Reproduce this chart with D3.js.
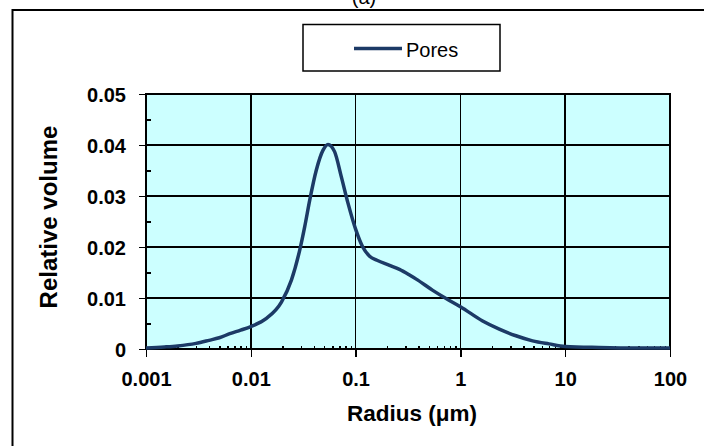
<!DOCTYPE html>
<html>
<head>
<meta charset="utf-8">
<title>Pore size distribution</title>
<style type="text/css">
body{ margin: 0; background: #fff; }
svg text{ font-family: Arial, "Liberation Sans", sans-serif; }
.grid line{ stroke: #000; stroke-width: 1.5; shape-rendering: crispEdges; }
.axis path{ display: none; }
.axis line{ stroke: #000; stroke-width: 1.5; shape-rendering: crispEdges; }
.axis text{ font-size: 20px; font-weight: bold; fill: #000; }
</style>
<script src="https://cdn.jsdelivr.net/npm/d3@7"></script>
</head>
<body>
<script>
// data
var radius = [0.001, 0.0015, 0.002, 0.003, 0.004, 0.005, 0.0063, 0.008, 0.01, 0.0141,
              0.0196, 0.0244, 0.0293, 0.0327, 0.0365, 0.0422, 0.0489, 0.0545, 0.063, 0.073,
              0.0846, 0.1, 0.117, 0.136, 0.16, 0.211, 0.262, 0.327, 0.379, 0.545,
              0.73, 1.0, 1.63, 2.35, 3.39, 4.88, 7.0, 10, 21, 50, 100];
var pores = [0.0002, 0.0004, 0.0006, 0.0011, 0.0017, 0.0022, 0.0030, 0.0037, 0.0044, 0.0060,
             0.0092, 0.0135, 0.0194, 0.0240, 0.0292, 0.0351, 0.0390, 0.0401, 0.0387, 0.0338,
             0.0286, 0.0235, 0.0200, 0.0182, 0.0174, 0.0164, 0.0156, 0.0145, 0.0137, 0.0115,
             0.0099, 0.0083, 0.0055, 0.0039, 0.0026, 0.0016, 0.0010, 0.0005, 0.0003, 0.0002, 0.0002];
var xTicks = [0.001, 0.01, 0.1, 1, 10, 100];
var xTickLabels = ["0.001", "0.01", "0.1", "1", "10", "100"];
var yTicks = [0, 0.01, 0.02, 0.03, 0.04, 0.05];
var yTickLabels = ["0", "0.01", "0.02", "0.03", "0.04", "0.05"];
var yMinor = [0.005, 0.015, 0.025, 0.035, 0.045];

const width = 704, height = 446;
const plot = {left: 146, right: 670, top: 94, bottom: 349};

const svg = d3.select("body").append("svg").attr("width", width).attr("height", height);

// outer frame (only top and left edges are inside the picture)
svg.append("path").attr("d", "M12.5,450 V10 H710")
   .attr("fill", "none").attr("stroke", "#000").attr("stroke-width", 2);

// title, cut off by the top edge
svg.append("text").attr("x", 364).attr("y", 4).attr("text-anchor", "middle")
   .attr("font-size", 20).text("(a)");

const x = d3.scaleLog().domain([0.001, 100]).range([plot.left, plot.right]);
const y = d3.scaleLinear().domain([0, 0.05]).range([plot.bottom, plot.top]);

svg.append("rect").attr("x", plot.left).attr("y", plot.top)
   .attr("width", plot.right - plot.left).attr("height", plot.bottom - plot.top)
   .attr("fill", "#ccffff");

// gridlines
const grid = svg.append("g").attr("class", "grid");
grid.selectAll(".h").data(yTicks).enter().append("line")
    .attr("x1", plot.left).attr("x2", plot.right)
    .attr("y1", d => y(d)).attr("y2", d => y(d));
grid.selectAll(".v").data(xTicks).enter().append("line")
    .attr("y1", plot.top).attr("y2", plot.bottom)
    .attr("x1", d => x(d)).attr("x2", d => x(d));

// minor ticks (inside)
var xMinor = [];
xTicks.slice(0, -1).forEach(function(t) {
  for (var k = 2; k <= 9; k++) xMinor.push(t * k);
});
svg.append("g").attr("class", "axis")
   .attr("transform", `translate(0,${plot.bottom})`)
   .call(d3.axisBottom(x).tickValues(xMinor).tickSize(-3.5).tickFormat(""));
svg.append("g").attr("class", "axis")
   .attr("transform", `translate(${plot.left},0)`)
   .call(d3.axisLeft(y).tickValues(yMinor).tickSize(-5).tickFormat(""));

// major axes
const xAxisG = svg.append("g").attr("class", "axis")
   .attr("transform", `translate(0,${plot.bottom})`)
   .call(d3.axisBottom(x).tickValues(xTicks).tickSize(8)
         .tickFormat((d, i) => xTickLabels[i]));
xAxisG.selectAll("text").attr("y", 36.5).attr("dy", 0);

const yAxisG = svg.append("g").attr("class", "axis")
   .attr("transform", `translate(${plot.left},0)`)
   .call(d3.axisLeft(y).tickValues(yTicks).tickSize(7)
         .tickFormat((d, i) => yTickLabels[i]));
yAxisG.selectAll("text").attr("x", -20).attr("dy", 7);

// plot border
svg.append("rect").attr("x", plot.left).attr("y", plot.top)
   .attr("width", plot.right - plot.left).attr("height", plot.bottom - plot.top)
   .attr("fill", "none").attr("stroke", "#000").attr("stroke-width", 1.5)
   .attr("shape-rendering", "crispEdges");

// the curve
const data = radius.map((r, i) => ({r: r, v: pores[i]}));
const lineGen = d3.line().x(d => x(d.r)).y(d => y(d.v)).curve(d3.curveMonotoneX);
svg.append("path").datum(data).attr("d", lineGen)
   .attr("fill", "none").attr("stroke", "#1c3a66").attr("stroke-width", 3.5)
   .attr("stroke-linejoin", "round").attr("stroke-linecap", "butt");

// axis titles
svg.append("text").attr("x", 412).attr("y", 421).attr("text-anchor", "middle")
   .attr("font-size", 22.5).attr("font-weight", "bold").text("Radius (\u03bcm)");
svg.append("text").attr("transform", "translate(57,217) rotate(-90)")
   .attr("text-anchor", "middle").attr("font-size", 24).attr("font-weight", "bold")
   .text("Relative volume");

// legend
const legend = svg.append("g");
legend.append("rect").attr("x", 303).attr("y", 24.5).attr("width", 197).attr("height", 46.5)
   .attr("fill", "#fff").attr("stroke", "#000").attr("stroke-width", 1.5);
legend.append("line").attr("x1", 354).attr("x2", 402).attr("y1", 48.5).attr("y2", 48.5)
   .attr("stroke", "#1c3a66").attr("stroke-width", 3.5);
legend.append("text").attr("x", 406).attr("y", 56.5).attr("font-size", 20).text("Pores");
</script>
</body>
</html>
